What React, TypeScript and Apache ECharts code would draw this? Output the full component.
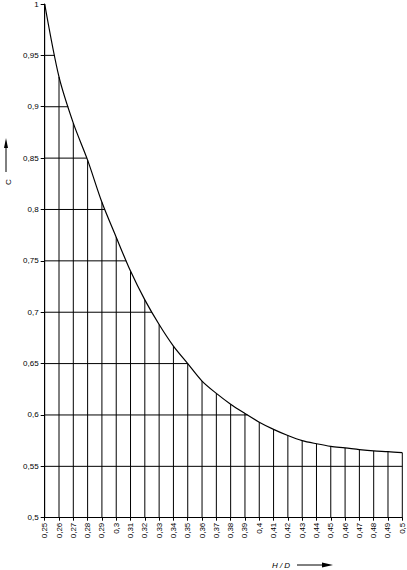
import React, { useEffect, useRef } from "react";
import * as echarts from "echarts";

const hdValues = [0.25, 0.26, 0.27, 0.28, 0.29, 0.3, 0.31, 0.32, 0.33, 0.34, 0.35, 0.36, 0.37, 0.38, 0.39, 0.4, 0.41, 0.42, 0.43, 0.44, 0.45, 0.46, 0.47, 0.48, 0.49, 0.5];
const cValues = [1.0, 0.929, 0.884, 0.848, 0.807, 0.773, 0.74, 0.712, 0.688, 0.667, 0.65, 0.633, 0.621, 0.6105, 0.6015, 0.593, 0.586, 0.58, 0.575, 0.572, 0.5695, 0.568, 0.5663, 0.565, 0.5643, 0.5633];
const gridLevels = [0.55, 0.6, 0.65, 0.7, 0.75, 0.8, 0.85, 0.9, 0.95];

const fmt = (v: number) => String(+v.toFixed(2)).replace(".", ",");

function crossing(level: number): number {
  for (let i = 0; i < cValues.length - 1; i++) {
    const a = cValues[i];
    const b = cValues[i + 1];
    if (a >= level && b <= level) {
      const t = (a - level) / (a - b);
      return hdValues[i] + t * (hdValues[i + 1] - hdValues[i]);
    }
  }
  return hdValues[hdValues.length - 1];
}

const FONT = "Liberation Sans";

export default function App() {
  const ref = useRef<HTMLDivElement>(null);
  useEffect(() => {
    if (!ref.current) return;
    const chart = echarts.init(ref.current, null, { renderer: "svg" });
    const lineStyle = { stroke: "#000", lineWidth: 1 };
    chart.setOption({
      animation: false,
      backgroundColor: "#fff",
      grid: { left: 44.7, right: 4.7, top: 4, bottom: 52.3, containLabel: false },
      xAxis: {
        type: "value",
        min: 0.25,
        max: 0.5,
        interval: 0.01,
        axisLine: { show: true, lineStyle: { color: "#000", width: 1 } },
        axisTick: { show: true, length: 3, lineStyle: { color: "#000" } },
        splitLine: { show: false },
        axisLabel: {
          rotate: 90,
          color: "#000",
          fontFamily: FONT,
          fontSize: 8,
          margin: 5,
          formatter: (v: number) => fmt(v),
        },
      },
      yAxis: {
        type: "value",
        min: 0.5,
        max: 1,
        interval: 0.05,
        axisLine: { show: true, lineStyle: { color: "#000", width: 1 } },
        axisTick: { show: true, length: 4, lineStyle: { color: "#000" } },
        splitLine: { show: false },
        axisLabel: {
          color: "#000",
          fontFamily: FONT,
          fontSize: 8,
          margin: 6,
          formatter: (v: number) => fmt(v),
        },
      },
      series: [
        {
          type: "custom",
          data: hdValues.map((x, i) => [x, cValues[i]]),
          renderItem: (params: any, api: any) => {
            const x = api.value(0);
            const y = api.value(1);
            const p0 = api.coord([x, 0.5]);
            const p1 = api.coord([x, y]);
            return {
              type: "line",
              shape: { x1: p0[0], y1: p0[1], x2: p1[0], y2: p1[1] },
              style: lineStyle,
            };
          },
          silent: true,
          z: 1,
        },
        {
          type: "custom",
          data: gridLevels.map((v) => [crossing(v), v]),
          renderItem: (params: any, api: any) => {
            const xc = api.value(0);
            const v = api.value(1);
            const p0 = api.coord([0.25, v]);
            const p1 = api.coord([xc, v]);
            return {
              type: "line",
              shape: { x1: p0[0], y1: p0[1], x2: p1[0], y2: p1[1] },
              style: lineStyle,
            };
          },
          silent: true,
          z: 1,
        },
        {
          type: "line",
          data: hdValues.map((x, i) => [x, cValues[i]]),
          smooth: 0.3,
          showSymbol: false,
          symbol: "none",
          lineStyle: { color: "#000", width: 1.2 },
          z: 3,
        },
      ],
      graphic: [
        {
          type: "text",
          x: 8,
          y: 182,
          rotation: Math.PI / 2,
          style: {
            text: "C",
            fontFamily: FONT,
            fontSize: 8,
            fill: "#000",
            textAlign: "center",
            textVerticalAlign: "middle",
          },
        },
        {
          type: "line",
          shape: { x1: 6, y1: 172, x2: 6, y2: 146 },
          style: { stroke: "#000", lineWidth: 1 },
        },
        {
          type: "polygon",
          shape: { points: [[6, 138], [4, 148], [8, 148]] },
          style: { fill: "#000" },
        },
        {
          type: "text",
          x: 281,
          y: 565,
          style: {
            text: "H / D",
            fontFamily: FONT,
            fontSize: 8,
            fontStyle: "italic",
            fill: "#000",
            textAlign: "center",
            textVerticalAlign: "middle",
          },
        },
        {
          type: "line",
          shape: { x1: 297, y1: 565, x2: 324, y2: 565 },
          style: { stroke: "#000", lineWidth: 1 },
        },
        {
          type: "polygon",
          shape: { points: [[333, 565], [322, 562.5], [322, 567.5]] },
          style: { fill: "#000" },
        },
      ],
    });
    return () => chart.dispose();
  }, []);
  return (
    <div
      ref={ref}
      style={{ position: "absolute", left: 0, top: 0, width: 407, height: 570 }}
    />
  );
}
